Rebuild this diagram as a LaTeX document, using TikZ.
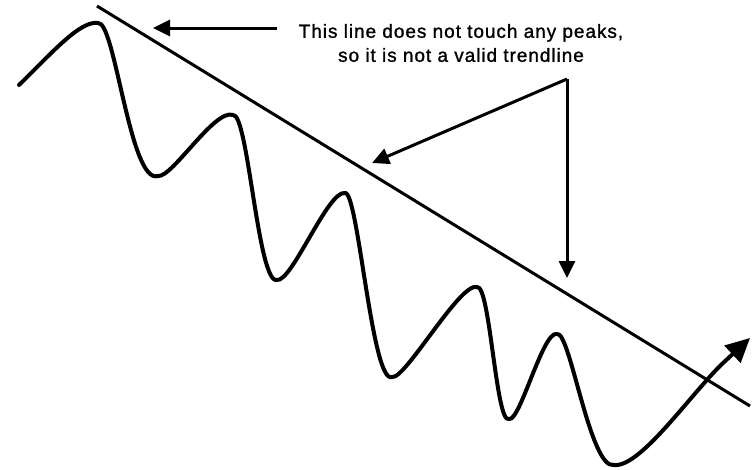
\documentclass[tikz,border=0pt]{standalone}
\usepackage{fontspec}
\setmainfont{Liberation Sans}
\newfontfamily\notefont[FakeBold=1.2,LetterSpace=5]{Liberation Sans}
\usetikzlibrary{arrows.meta}
\begin{document}
\begin{tikzpicture}[x=1pt,y=-1pt,
  price/.style={line width=4pt,line cap=round,line join=round},
  trend/.style={line width=3pt},
  pointer/.style={line width=3pt,-{Triangle[length=17pt,width=16pt]}},
  label/.style={align=center,inner sep=0pt,font=\notefont\fontsize{19}{24}\selectfont}]
\useasboundingbox (0,0) rectangle (753,469);
% trendline
\coordinate (tlA) at (97,6);
\coordinate (tlB) at (750,406);
\draw[trend] (tlA) -- (tlB);
% price curve
\coordinate (s) at (19,85);
\coordinate (p1) at (98,23);   \coordinate (t1) at (158,176);
\coordinate (p2) at (233,115); \coordinate (t2) at (277,280);
\coordinate (p3) at (345,193); \coordinate (t3) at (392,377);
\coordinate (p4) at (477,287); \coordinate (t4) at (509,419);
\coordinate (p5) at (557,334); \coordinate (t5) at (614,465);
\coordinate (e) at (750,338);
\draw[price,-{Triangle[length=24pt,width=23pt]}] (s)
  .. controls (50,55) and (80,20) .. (p1)
  .. controls (115,20) and (130,185) .. (t1)
  .. controls (172,178) and (215,108) .. (p2)
  .. controls (248,112) and (258,285) .. (t2)
  .. controls (292,282) and (328,190) .. (p3)
  .. controls (358,190) and (372,385) .. (t3)
  .. controls (405,380) and (460,282) .. (p4)
  .. controls (490,284) and (496,425) .. (t4)
  .. controls (520,422) and (543,330) .. (p5)
  .. controls (570,330) and (590,470) .. (t5)
  .. controls (640,468) and (690,395) .. (722,364) -- (e);
% label and pointers
\node[label] (txt) at (461,43) {This line does not touch any peaks,\\so it is not a valid trendline};
\coordinate (h0) at (277,28);
\coordinate (h1) at (153,28);
\coordinate (c) at (567,79);
\coordinate (d1) at (372,163);
\coordinate (d2) at (567,278);
\draw[pointer] (h0) -- (h1);
\draw[pointer] (c) -- (d1);
\draw[pointer] (c) -- (d2);
\end{tikzpicture}
\end{document}
